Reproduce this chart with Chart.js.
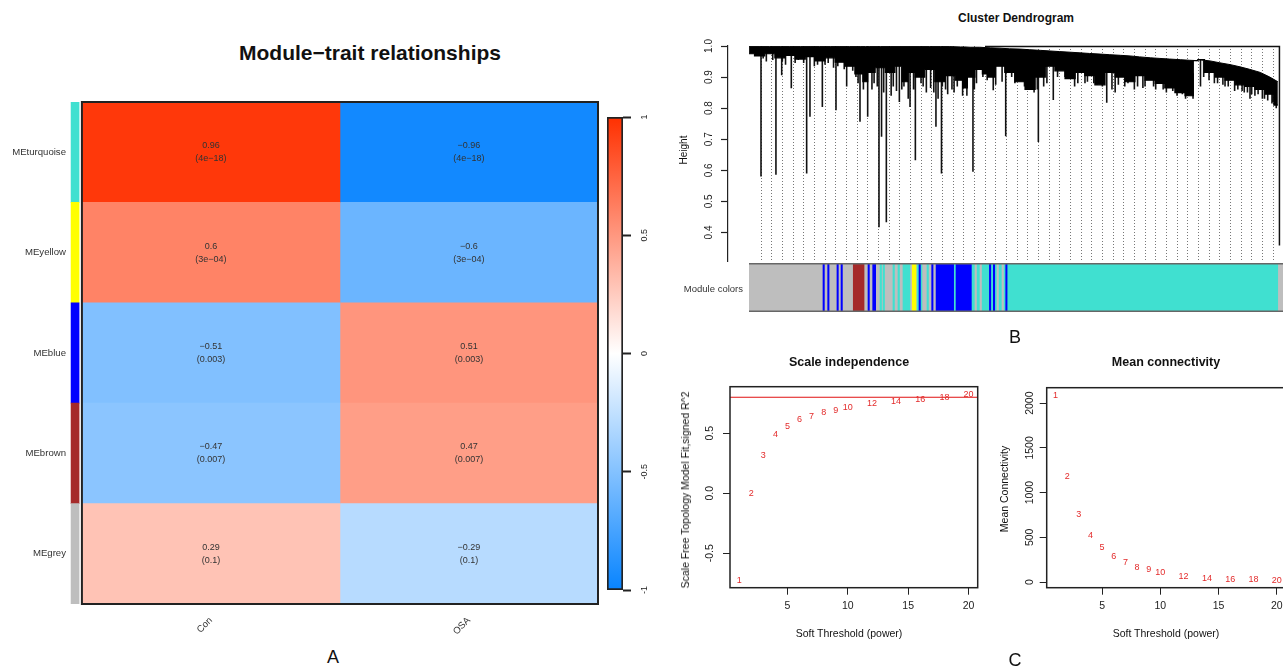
<!DOCTYPE html>
<html>
<head>
<meta charset="utf-8">
<script src="https://cdn.jsdelivr.net/npm/chart.js@4.4.1/dist/chart.umd.min.js"></script>
<style>
  body { margin: 0; width: 1283px; height: 669px; overflow: hidden; background: #fff; position: relative;
         font-family: "Liberation Sans", Arial, sans-serif; color: #111; }
  canvas { position: absolute; }
  .t { position: absolute; transform: translate(-50%, -50%); white-space: nowrap; z-index: 5; }
  .r { transform: translate(-50%, -50%) rotate(-90deg); }
  .rt { transform: translate(-100%, -50%); }
</style>
</head>
<body>
<canvas id="heat" width="600" height="550" style="left:0;top:92px"></canvas>
<canvas id="cbar" width="60" height="500" style="left:600px;top:100px"></canvas>
<canvas id="dendro" width="620" height="232" style="left:670px;top:30px"></canvas>
<canvas id="modcol" width="620" height="49" style="left:670px;top:263px"></canvas>
<canvas id="scaleInd" width="310" height="310" style="left:670px;top:340px"></canvas>
<canvas id="meanK" width="310" height="310" style="left:980px;top:340px"></canvas>

<div class="t" style="left:370px;top:53px;font-size:21px;font-weight:bold">Module−trait relationships</div>
<div class="t" style="left:333px;top:657px;font-size:18px">A</div>
<div class="t" style="left:1016px;top:18px;font-size:12px;font-weight:bold">Cluster Dendrogram</div>
<div class="t r" style="left:683px;top:150px;font-size:10px">Height</div>
<div class="t rt" style="left:743px;top:288px;font-size:9.5px;color:#333">Module colors</div>
<div class="t" style="left:1015px;top:337px;font-size:18px">B</div>
<div class="t" style="left:849px;top:362px;font-size:12.5px;font-weight:bold">Scale independence</div>
<div class="t" style="left:849px;top:633px;font-size:10.5px">Soft Threshold (power)</div>
<div class="t r" style="left:685px;top:490px;font-size:10.5px">Scale Free Topology Model Fit,signed R^2</div>
<div class="t" style="left:1166px;top:362px;font-size:12.5px;font-weight:bold">Mean connectivity</div>
<div class="t" style="left:1166px;top:633px;font-size:10.5px">Soft Threshold (power)</div>
<div class="t r" style="left:1004px;top:489px;font-size:10.5px">Mean Connectivity</div>
<div class="t" style="left:1015px;top:660px;font-size:18px">C</div>

<script>
// ---- A: module-trait heatmap ----
const modules = ['MEturquoise', 'MEyellow', 'MEblue', 'MEbrown', 'MEgrey'];
const moduleColors = ['#40E0D0', '#FFFF00', '#0000FF', '#A52A2A', '#BEBEBE'];
const traits = ['Con', 'OSA'];
const corCon = [0.96, 0.6, -0.51, -0.47, 0.29];
const corOSA = [-0.96, -0.6, 0.51, 0.47, -0.29];
const pvalCon = ['4e-18', '3e-04', '0.003', '0.007', '0.1'];
const pvalOSA = ['4e-18', '3e-04', '0.003', '0.007', '0.1'];
const colorbarTicks = [-1, -0.5, 0, 0.5, 1];

// ---- B: dendrogram (x = leaf order, in guide units) ----
const heightTicks = [0.4, 0.5, 0.6, 0.7, 0.8, 0.9, 1.0];
const canopyPos = [-1.12, -0.1, 0.8, 1.8, 2.7, 3.7, 4.6, 5.5, 6.5, 7.4, 8.3, 9.3, 9.8, 10.2, 11.2, 12.1, 13.0, 13.5, 14.0, 14.9,
  15.8, 16.8, 17.7, 18.7, 19.1, 19.6, 20.5, 21.0, 21.5, 22.4, 23.3, 24.3, 25.2, 26.2, 27.1, 28.0, 29.0, 29.9, 30.8, 31.8,
  32.7, 33.7, 34.6, 35.5, 36.5, 37.4, 38.3, 39.3, 40.2, 40.85, 41.05, 42.1, 43.0, 44.0, 44.9, 45.8, 46.8, 47.7, 48.45];
const canopyTop = [0.998, 0.998, 0.998, 0.998, 0.998, 0.998, 0.998, 0.998, 0.998, 0.998, 0.998, 0.998, 0.998, 0.998, 0.998, 0.998,
  0.998, 0.998, 0.998, 0.998, 0.998, 0.998, 0.998, 0.997, 0.997, 0.996, 0.996, 0.995, 0.994, 0.993, 0.991, 0.99, 0.988, 0.986,
  0.984, 0.982, 0.98, 0.978, 0.976, 0.974, 0.972, 0.97, 0.968, 0.965, 0.962, 0.96, 0.958, 0.956, 0.954, 0.953, 0.956, 0.952,
  0.946, 0.94, 0.933, 0.925, 0.915, 0.9, 0.885];
const canopyBottom = [0.975, 0.968, 0.975, 0.962, 0.97, 0.958, 0.966, 0.952, 0.962, 0.948, 0.935, 0.91, 0.885, 0.915, 0.93,
  0.915, 0.935, 0.885, 0.915, 0.9, 0.925, 0.885, 0.905, 0.89, 0.865, 0.9, 0.925, 0.91, 0.9, 0.935, 0.915, 0.885, 0.86, 0.9,
  0.935, 0.92, 0.895, 0.915, 0.905, 0.875, 0.915, 0.9, 0.885, 0.905, 0.89, 0.88, 0.865, 0.85, 0.84, 0.953, 0.956, 0.915,
  0.9, 0.89, 0.875, 0.87, 0.86, 0.845, 0.81];
const branchPos = [0.0, 1.4, 1.94, 2.84, 4.28, 4.59, 5.75, 7.03, 8.03, 9.28, 10.0, 11.06, 11.3, 11.75, 12.97, 13.97, 14.47,
  16.4, 16.92, 19.87, 21.77, 22.94, 26.0, 27.4, 30.37, 32.41, 41.2, 45.84, 48.3,
  0.5, 2.3, 3.2, 5.0, 6.0, 6.8, 8.6, 9.6, 10.6, 12.4, 13.2, 15.2, 15.5, 17.3, 18.1, 18.9, 20.2, 23.8, 24.7, 25.6, 28.5,
  29.4, 31.2, 33.2, 34.1, 35.0, 36.0, 37.0, 38.0, 39.0, 39.8, 42.5, 43.5, 44.4, 45.3, 46.3, 47.2, 47.9,
  0.2, 1.1, 2.0, 3.5, 4.0, 5.3, 6.3, 7.2, 7.8, 8.9, 9.1, 10.4, 10.9, 11.5, 12.2, 12.7, 13.4, 13.8, 14.3, 15.0, 15.9, 16.2,
  16.6, 17.0, 17.5, 17.9, 18.4, 19.3, 20.0, 20.8, 21.2, 22.0, 22.6, 23.5, 24.1, 25.0, 25.9, 26.5, 26.8, 27.8, 28.8, 29.7,
  30.6, 31.5, 32.0, 32.9, 33.5, 34.4, 35.3, 35.8, 36.8, 37.7, 38.6, 39.5, 40.0, 40.5, 41.5, 42.0, 42.8, 43.3, 43.8, 44.7,
  45.1, 45.6, 46.0, 46.6, 47.0, 47.5, 48.0];
const branchHeight = [0.58, 0.586, 0.906, 0.864, 0.59, 0.772, 0.804, 0.793, 0.87, 0.756, 0.772, 0.417, 0.708, 0.433, 0.82,
  0.804, 0.632, 0.74, 0.59, 0.595, 0.858, 0.71, 0.691, 0.826, 0.88, 0.817, 0.87, 0.83, 0.8,
  0.95, 0.94, 0.945, 0.935, 0.94, 0.93, 0.92, 0.86, 0.88, 0.87, 0.86, 0.87, 0.85, 0.86, 0.85, 0.84, 0.88, 0.88, 0.87, 0.85,
  0.9, 0.87, 0.88, 0.85, 0.87, 0.86, 0.87, 0.86, 0.85, 0.84, 0.83, 0.88, 0.87, 0.855, 0.85, 0.84, 0.83, 0.815,
  0.96, 0.955, 0.95, 0.955, 0.945, 0.94, 0.945, 0.935, 0.925, 0.9, 0.88, 0.86, 0.87, 0.85, 0.84, 0.855, 0.87, 0.83, 0.86,
  0.88, 0.865, 0.85, 0.83, 0.87, 0.845, 0.86, 0.87, 0.84, 0.86, 0.9, 0.89, 0.875, 0.885, 0.9, 0.89, 0.875, 0.86, 0.87,
  0.88, 0.9, 0.895, 0.88, 0.885, 0.875, 0.87, 0.86, 0.875, 0.88, 0.87, 0.865, 0.87, 0.86, 0.855, 0.845, 0.84, 0.83, 0.9,
  0.89, 0.88, 0.875, 0.87, 0.86, 0.855, 0.85, 0.845, 0.845, 0.83, 0.825, 0.82];
const rootHeight = 0.998;
const rootFrom = 21.0;
const outlierPos = 48.6;
const outlierHeight = 0.358;
const guideCount = 49;
const colorFrom = [-1.125, 19.72, 20.06, 20.53, 22.12, 22.59, 11.16, 11.44, 12.37, 12.84, 13.31, 14.62, 15.56, 8.65, 14.18,
  16.41, 18.12, 5.81, 6.25, 7.12, 7.5, 10.03, 10.47, 10.62, 14.81, 16.0, 21.41, 21.78, 22.94];
const colorTo = [49.6, 48.44, 20.2, 20.67, 22.26, 22.73, 11.3, 11.58, 12.51, 12.98, 13.97, 15.09, 15.7, 9.66, 14.53,
  19.72, 18.22, 5.94, 6.38, 7.25, 7.63, 10.16, 10.6, 10.75, 14.94, 16.13, 21.54, 21.91, 23.07];
const colorModule = ['grey', 'turquoise', 'grey', 'grey', 'grey', 'grey', 'turquoise', 'turquoise', 'turquoise', 'turquoise',
  'turquoise', 'turquoise', 'turquoise', 'brown', 'yellow', 'blue', 'turquoise', 'blue', 'blue', 'blue', 'blue', 'blue',
  'blue', 'blue', 'blue', 'blue', 'blue', 'blue', 'blue'];

// ---- C: soft threshold ----
const powers = [1, 2, 3, 4, 5, 6, 7, 8, 9, 10, 12, 14, 16, 18, 20];
const sftR2 = [-0.725, -0.005, 0.313, 0.486, 0.555, 0.613, 0.642, 0.672, 0.692, 0.713, 0.744, 0.763, 0.778, 0.80, 0.822];
const meanK = [2090, 1182, 755, 526, 381, 283, 221, 165, 135, 107, 67, 45, 30, 24, 20];
const r2Cutoff = 0.8;
const powerTicks = [5, 10, 15, 20];
const r2Ticks = [-0.5, 0, 0.5];
const kTicks = [0, 500, 1000, 1500, 2000];
const powerRange = [0.24, 20.76];

Chart.defaults.font.family = '"Liberation Sans", Arial, sans-serif';
Chart.defaults.color = '#222';
Chart.defaults.animation = false;
Chart.defaults.responsive = false;
Chart.defaults.plugins.legend.display = false;
Chart.defaults.plugins.tooltip.enabled = false;

const palette = { grey: '#BEBEBE', turquoise: '#40E0D0', blue: '#0000FF', brown: '#A52A2A', yellow: '#FFFF00' };

function corColor(v) {
  const end = v >= 0 ? [255, 48, 0] : [8, 132, 255];
  const a = Math.min(1, Math.abs(v));
  return 'rgb(' + end.map(e => Math.round(255 + (e - 255) * a)).join(',') + ')';
}
const minus = s => String(s).replace('-', '−');

function interp(xs, ys, u) {
  for (let i = 1; i < xs.length; i++) {
    if (u <= xs[i]) {
      const t = (u - xs[i - 1]) / (xs[i] - xs[i - 1]);
      return ys[i - 1] + t * (ys[i] - ys[i - 1]);
    }
  }
  return ys[ys.length - 1];
}

// rotated y tick labels, R style (reading bottom to top)
function rotLabels(x0, fmt, size) {
  return {
    id: 'rotLabels',
    afterDraw(chart) {
      const s = chart.scales.y, ctx = chart.ctx;
      ctx.save();
      ctx.font = size + 'px "Liberation Sans", Arial, sans-serif';
      ctx.fillStyle = '#222';
      ctx.textAlign = 'center';
      ctx.textBaseline = 'middle';
      s.ticks.forEach(t => {
        ctx.save();
        ctx.translate(x0, s.getPixelForValue(t.value));
        ctx.rotate(-Math.PI / 2);
        ctx.fillText(fmt(t.value), 0, 0);
        ctx.restore();
      });
      ctx.restore();
    }
  };
}

const boxPlugin = {
  id: 'box',
  afterDraw(chart) {
    const { ctx, chartArea: a } = chart;
    ctx.save();
    ctx.strokeStyle = '#222';
    ctx.lineWidth = 1.5;
    ctx.strokeRect(a.left, a.top, a.right - a.left, a.bottom - a.top);
    ctx.restore();
  }
};

const pointText = {
  id: 'pointText',
  afterDatasetsDraw(chart) {
    const ctx = chart.ctx;
    const meta = chart.getDatasetMeta(0);
    ctx.save();
    ctx.font = '9px "Liberation Sans", Arial, sans-serif';
    ctx.fillStyle = '#e32b2b';
    ctx.textAlign = 'center';
    ctx.textBaseline = 'middle';
    meta.data.forEach((el, i) => ctx.fillText(String(powers[i]), el.x, el.y));
    ctx.restore();
  }
};

// ---------- A ----------
const heatText = {
  id: 'heatText',
  afterDatasetsDraw(chart) {
    const { ctx, scales: { x, y }, chartArea } = chart;
    ctx.save();
    ctx.font = '9px "Liberation Sans", Arial, sans-serif';
    ctx.fillStyle = '#333';
    ctx.textAlign = 'center';
    ctx.textBaseline = 'middle';
    [corCon, corOSA].forEach((cors, j) => {
      const pv = j ? pvalOSA : pvalCon;
      cors.forEach((v, i) => {
        const cx = x.getPixelForValue(j + 0.5), cy = y.getPixelForValue(i);
        ctx.fillText(minus(v), cx, cy - 6.5);
        ctx.fillText('(' + minus(pv[i]) + ')', cx, cy + 6.5);
      });
    });
    const l = x.getPixelForValue(0), r = x.getPixelForValue(2);
    ctx.lineWidth = 2;
    ctx.strokeStyle = '#222';
    ctx.strokeRect(l, chartArea.top, r - l, chartArea.bottom - chartArea.top);
    ctx.restore();
  }
};

const cellOpts = { grouped: false, barPercentage: 1, categoryPercentage: 1 };
new Chart(document.getElementById('heat'), {
  type: 'bar',
  data: {
    labels: modules,
    datasets: [
      Object.assign({ data: modules.map(() => [-0.042, -0.011]), backgroundColor: moduleColors }, cellOpts),
      Object.assign({ data: corCon.map(() => [0, 1]), backgroundColor: corCon.map(corColor) }, cellOpts),
      Object.assign({ data: corOSA.map(() => [1, 2]), backgroundColor: corOSA.map(corColor) }, cellOpts)
    ]
  },
  options: {
    indexAxis: 'y',
    layout: { padding: { top: 10, right: 2 } },
    scales: {
      x: {
        type: 'linear', min: -0.05, max: 2,
        grid: { display: false, drawTicks: false }, border: { display: false },
        afterBuildTicks: s => { s.ticks = [{ value: 0.5 }, { value: 1.5 }]; },
        afterFit: s => { s.height = 38; },
        ticks: { autoSkip: false, minRotation: 45, maxRotation: 45, padding: 11, color: '#333', font: { size: 9.5 },
                 callback: v => traits[Math.floor(v)] }
      },
      y: {
        grid: { display: false, drawTicks: false }, border: { display: false },
        afterFit: s => { s.width = 69; },
        ticks: { padding: 3, color: '#333', font: { size: 9.6 } }
      }
    }
  },
  plugins: [heatText]
});

new Chart(document.getElementById('cbar'), {
  type: 'bar',
  data: {
    labels: [''],
    datasets: [{
      data: [[-1, 1]],
      backgroundColor: c => {
        const a = c.chart.chartArea;
        if (!a) return '#fff';
        const g = c.chart.ctx.createLinearGradient(0, a.bottom, 0, a.top);
        g.addColorStop(0, corColor(-1));
        g.addColorStop(0.5, '#fff');
        g.addColorStop(1, corColor(1));
        return g;
      },
      borderColor: '#222', borderWidth: 2, borderSkipped: false, barPercentage: 1, categoryPercentage: 1
    }]
  },
  options: {
    layout: { padding: { left: 7, top: 17, bottom: 10 } },
    scales: {
      x: { display: false },
      y: {
        position: 'right', min: -1, max: 1,
        afterBuildTicks: s => { s.ticks = colorbarTicks.map(v => ({ value: v })); },
        afterFit: s => { s.width = 37; },
        border: { display: false },
        grid: { drawOnChartArea: false, tickLength: 8, tickWidth: 2, tickColor: '#222' },
        ticks: { display: false }
      }
    }
  },
  plugins: [rotLabels(45, v => String(v), 9)]
});

// ---------- B ----------
const branchData = [];
branchPos.forEach((u, i) => {
  const top = Math.min(interp(canopyPos, canopyTop, u), interp(canopyPos, canopyBottom, u) + 0.02);
  branchData.push({ x: u, y: top }, { x: u, y: branchHeight[i] }, { x: u, y: null });
});
const guides = Array.from({ length: guideCount }, (_, i) => i);

new Chart(document.getElementById('dendro'), {
  type: 'line',
  data: {
    datasets: [
      { data: canopyPos.map((u, i) => ({ x: u, y: canopyTop[i] })), borderColor: '#000', borderWidth: 1,
        pointRadius: 0, fill: '+1', backgroundColor: '#000', clip: 4 },
      { data: canopyPos.map((u, i) => ({ x: u, y: canopyBottom[i] })), borderColor: '#000', borderWidth: 1.2,
        pointRadius: 0, stepped: 'middle', fill: false, clip: 4 },
      { data: branchData, borderColor: '#111', borderWidth: 1.6, pointRadius: 0, spanGaps: false, clip: 4 },
      { data: [{ x: rootFrom, y: rootHeight }, { x: outlierPos, y: rootHeight }, { x: outlierPos, y: outlierHeight }],
        borderColor: '#111', borderWidth: 1.5, pointRadius: 0, clip: 4 }
    ]
  },
  options: {
    layout: { padding: { top: 16 } },
    scales: {
      x: {
        type: 'linear', min: -3.094, max: 49.59,
        afterBuildTicks: s => { s.ticks = guides.map(v => ({ value: v })); },
        afterFit: s => { s.height = 0; },
        ticks: { display: false },
        grid: { color: '#777', lineWidth: 1, drawTicks: false },
        border: { display: false, dash: [1, 2] }
      },
      y: {
        min: 0.305, max: 1.0,
        afterBuildTicks: s => { s.ticks = heightTicks.map(v => ({ value: v })); },
        afterFit: s => { s.width = 58; },
        ticks: { display: false },
        grid: { drawOnChartArea: false, tickLength: 7, tickColor: '#222', tickWidth: 1.2 },
        border: { color: '#222', width: 1.2 }
      }
    }
  },
  plugins: [rotLabels(39, v => v.toFixed(1), 10)]
});

const bandEdges = {
  id: 'bandEdges',
  afterDatasetsDraw(c) {
    const { ctx, chartArea: a } = c;
    ctx.save();
    ctx.strokeStyle = '#666';
    ctx.lineWidth = 1.5;
    ctx.beginPath();
    ctx.moveTo(a.left, a.top + 0.75); ctx.lineTo(a.right, a.top + 0.75);
    ctx.moveTo(a.left, a.bottom - 0.75); ctx.lineTo(a.right, a.bottom - 0.75);
    ctx.stroke();
    ctx.restore();
  }
};

new Chart(document.getElementById('modcol'), {
  type: 'bar',
  data: {
    labels: ['Module colors'],
    datasets: [{
      data: colorFrom.map((a, i) => ({ x: [a, colorTo[i]], y: 'Module colors' })),
      backgroundColor: colorModule.map(m => palette[m]),
      barPercentage: 1, categoryPercentage: 1
    }]
  },
  options: {
    indexAxis: 'y',
    layout: { padding: { left: 79 } },
    scales: {
      x: { type: 'linear', display: false, min: -1.125, max: 49.59 },
      y: { display: false }
    }
  },
  plugins: [bandEdges]
});

// ---------- C ----------
function softOpts(yMin, yMax, yTicks, yWidth, padTop, padRight) {
  return {
    layout: { padding: { top: padTop, right: padRight } },
    scales: {
      x: {
        type: 'linear', min: powerRange[0], max: powerRange[1],
        afterBuildTicks: s => { s.ticks = powerTicks.map(v => ({ value: v })); },
        afterFit: s => { s.height = 62.3; },
        grid: { drawOnChartArea: false, tickLength: 7, tickColor: '#222' },
        border: { display: false },
        ticks: { padding: 5, color: '#222', font: { size: 10.5 } }
      },
      y: {
        min: yMin, max: yMax,
        afterBuildTicks: s => { s.ticks = yTicks.map(v => ({ value: v })); },
        afterFit: s => { s.width = yWidth; },
        grid: { drawOnChartArea: false, tickLength: 7, tickColor: '#222' },
        border: { display: false },
        ticks: { display: false }
      }
    }
  };
}

new Chart(document.getElementById('scaleInd'), {
  type: 'scatter',
  data: {
    datasets: [
      { data: powers.map((p, i) => ({ x: p, y: sftR2[i] })), pointRadius: 0 },
      { type: 'line', data: [{ x: powerRange[0], y: r2Cutoff }, { x: powerRange[1], y: r2Cutoff }],
        borderColor: '#e01010', borderWidth: 1.2, pointRadius: 0 }
    ]
  },
  options: softOpts(-0.787, 0.888, r2Ticks, 60, 46.7, 2.3),
  plugins: [boxPlugin, pointText, rotLabels(40, v => v.toFixed(1), 10.5)]
});

new Chart(document.getElementById('meanK'), {
  type: 'scatter',
  data: {
    datasets: [{ data: powers.map((p, i) => ({ x: p, y: meanK[i] })), pointRadius: 0 }]
  },
  options: softOpts(-63, 2173, kTicks, 66.7, 47.7, 4.4),
  plugins: [boxPlugin, pointText, rotLabels(50, v => String(v), 10.5)]
});
</script>
</body>
</html>
